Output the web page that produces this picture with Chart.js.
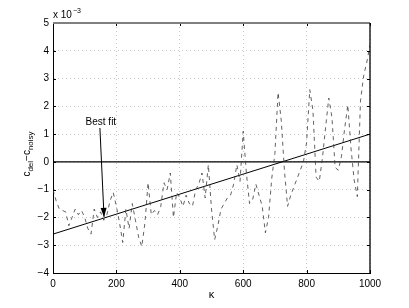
<!DOCTYPE html>
<html>
<head>
<meta charset="utf-8">
<script src="https://cdn.jsdelivr.net/npm/chart.js@4/dist/chart.umd.min.js"></script>
<style>
html, body { margin: 0; padding: 0; background: #fff; }
#wrap { width: 409px; height: 308px; }
</style>
</head>
<body>
<div id="wrap"><canvas id="residChart" width="409" height="308"></canvas></div>
<script>
// kappa samples and residual (units of 1e-3)
const kappa = [0,10,20,30,40,50,60,70,80,90,100,110,120,130,140,150,160,170,180,190,
    200,210,220,230,240,250,260,270,280,290,300,310,320,330,340,350,360,370,380,390,
    400,410,420,430,440,450,460,470,480,490,500,510,520,530,540,550,560,570,580,590,
    600,610,620,630,640,650,660,670,680,690,700,710,720,730,740,750,760,770,780,790,
    800,810,820,830,840,850,860,870,880,890,900,910,920,930,940,950,960,970,980,990,1000];

const diffNoisy = [-1.0,-1.4,-1.7,-1.75,-1.8,-2.3,-2.0,-1.7,-1.9,-1.75,
    -2.0,-2.4,-2.6,-1.7,-2.0,-1.8,-2.1,-1.9,-1.4,-1.1,
    -1.6,-2.2,-2.9,-1.7,-2.4,-1.5,-2.1,-2.7,-3.05,-2.2,
    -0.75,-1.9,-1.75,-1.9,-1.6,-0.75,-1.0,-0.4,-2.0,-1.1,
    -1.3,-1.6,-1.2,-1.5,-1.6,-1.0,-0.8,-0.4,-1.3,-0.1,
    -1.7,-2.8,-2.3,-1.7,-1.5,-1.3,-1.2,-0.8,-0.1,-0.7,
    1.1,-0.4,-1.5,-1.35,-0.8,-1.2,-1.6,-2.55,-2.0,-0.6,
    0.3,2.5,1.5,-0.3,-1.6,-1.2,-0.9,-0.6,-0.3,0.0,
    0.7,2.6,1.85,-0.55,-0.7,0.15,1.25,2.3,1.6,-0.2,
    -0.3,0.2,1.2,2.05,0.5,-0.65,-1.25,2.2,3.1,3.6,4.2];

const fitKappa = [0, 1000];
const fitValues = [-2.6, 1.0];
const zeroValues = [0, 0];

const xTicks = [0, 200, 400, 600, 800, 1000];
const yTicks = [-4, -3, -2, -1, 0, 1, 2, 3, 4, 5];

// annotation, in data units
const noteText = "Best fit";
const noteAt = [151, 1.44];
const arrowFrom = [148, 1.22];
const arrowTo = [161, -1.98];

const FONT = '"Liberation Sans", Arial, Helvetica, sans-serif';

const pairs = (xs, ys) => xs.map((x, i) => ({ x: x, y: ys[i] }));

const decorPlugin = {
    id: "decor",
    afterDraw(chart) {
        const c = chart.ctx;
        const a = chart.chartArea;
        const xs = chart.scales.x;
        const ys = chart.scales.y;
        c.save();

        // inner tick marks
        c.strokeStyle = "#000";
        c.lineWidth = 1;
        c.beginPath();
        xTicks.forEach(v => {
            const p = Math.round(xs.getPixelForValue(v)) + 0.5;
            c.moveTo(p, a.bottom); c.lineTo(p, a.bottom - 3);
            c.moveTo(p, a.top); c.lineTo(p, a.top + 3);
        });
        yTicks.forEach(v => {
            const p = Math.round(ys.getPixelForValue(v)) + 0.5;
            c.moveTo(a.left, p); c.lineTo(a.left + 3, p);
            c.moveTo(a.right, p); c.lineTo(a.right - 3, p);
        });
        c.stroke();

        // top and right box edges
        c.strokeStyle = "#808080";
        c.lineWidth = 2;
        c.beginPath();
        c.moveTo(a.left, a.top); c.lineTo(a.right, a.top);
        c.stroke();
        c.strokeStyle = "#000";
        c.lineWidth = 1.3;
        c.beginPath();
        c.moveTo(a.right, a.top); c.lineTo(a.right, a.bottom);
        c.stroke();

        c.fillStyle = "#000";

        // exponent label
        c.textBaseline = "alphabetic";
        c.textAlign = "left";
        c.font = "10px " + FONT;
        c.fillText("x 10", a.left, a.top - 5);
        const w10 = c.measureText("x 10").width;
        c.font = "7px " + FONT;
        c.fillText("\u22123", a.left + w10 + 1, a.top - 10);

        // x title
        c.font = "11px " + FONT;
        c.textAlign = "center";
        c.fillText("\u03ba", (a.left + a.right) / 2, 298);

        // y title with subscripts, rotated
        c.save();
        c.translate(30, 154);
        c.rotate(-Math.PI / 2);
        const parts = [["c", 0, 10], ["del", 3, 8], ["\u2212c", 0, 10], ["noisy", 3, 8]];
        let total = 0;
        parts.forEach(p => { c.font = p[2] + "px " + FONT; total += c.measureText(p[0]).width; });
        let cx = -total / 2;
        c.textAlign = "left";
        parts.forEach(p => {
            c.font = p[2] + "px " + FONT;
            c.fillText(p[0], cx, p[1]);
            cx += c.measureText(p[0]).width;
        });
        c.restore();

        // annotation text and arrow
        c.font = "10px " + FONT;
        c.textAlign = "center";
        c.textBaseline = "middle";
        c.fillText(noteText, xs.getPixelForValue(noteAt[0]), ys.getPixelForValue(noteAt[1]));

        const x0 = xs.getPixelForValue(arrowFrom[0]), y0 = ys.getPixelForValue(arrowFrom[1]);
        const x1 = xs.getPixelForValue(arrowTo[0]), y1 = ys.getPixelForValue(arrowTo[1]);
        const ang = Math.atan2(y1 - y0, x1 - x0);
        c.strokeStyle = "#000";
        c.lineWidth = 1;
        c.beginPath();
        c.moveTo(x0, y0); c.lineTo(x1, y1);
        c.stroke();
        c.beginPath();
        c.moveTo(x1, y1);
        c.lineTo(x1 - 9 * Math.cos(ang) + 3 * Math.sin(ang), y1 - 9 * Math.sin(ang) - 3 * Math.cos(ang));
        c.lineTo(x1 - 9 * Math.cos(ang) - 3 * Math.sin(ang), y1 - 9 * Math.sin(ang) + 3 * Math.cos(ang));
        c.closePath();
        c.fill();

        c.restore();
    }
};

const ctx = document.getElementById("residChart");

new Chart(ctx, {
    type: "line",
    data: {
        datasets: [
            {
                data: pairs(kappa, diffNoisy),
                borderColor: "#3a3a3a",
                borderWidth: 0.8,
                borderDash: [4, 4],
                pointRadius: 0,
                tension: 0
            },
            {
                data: pairs(fitKappa, fitValues),
                borderColor: "#000",
                borderWidth: 1,
                pointRadius: 0
            },
            {
                data: pairs(fitKappa, zeroValues),
                borderColor: "#000",
                borderWidth: 1.3,
                pointRadius: 0
            }
        ]
    },
    options: {
        responsive: false,
        animation: false,
        layout: { padding: { left: 0, top: 23, right: 39, bottom: 0 } },
        plugins: { legend: { display: false }, tooltip: { enabled: false } },
        scales: {
            x: {
                type: "linear",
                min: 0,
                max: 1000,
                afterFit: s => { s.height = 35; },
                afterBuildTicks: s => { s.ticks = xTicks.map(v => ({ value: v })); },
                grid: { color: "#c8c8c8", lineWidth: 1, drawTicks: false },
                border: { color: "#000", width: 1, dash: [1, 3] },
                ticks: {
                    color: "#000",
                    padding: 5,
                    maxRotation: 0,
                    font: { size: 10, family: FONT },
                    callback: v => String(v)
                }
            },
            y: {
                min: -4,
                max: 5,
                afterFit: s => { s.width = 53; },
                afterBuildTicks: s => { s.ticks = yTicks.map(v => ({ value: v })); },
                grid: { color: "#c8c8c8", lineWidth: 1, drawTicks: false },
                border: { color: "#000", width: 1, dash: [1, 3] },
                ticks: {
                    color: "#000",
                    padding: 4,
                    font: { size: 10, family: FONT },
                    callback: v => (v < 0 ? "\u2212" + Math.abs(v) : String(v))
                }
            }
        }
    },
    plugins: [decorPlugin]
});
</script>
</body>
</html>
